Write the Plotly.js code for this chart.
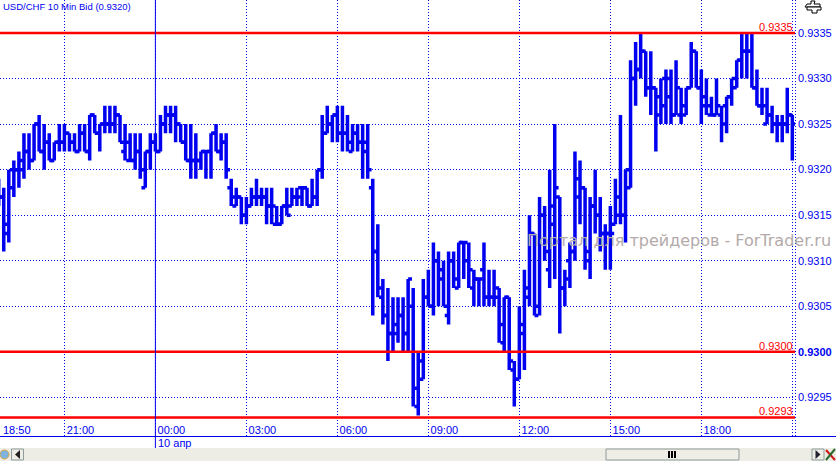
<!DOCTYPE html>
<html><head><meta charset="utf-8">
<script src="https://cdn.plot.ly/plotly-3.0.1.min.js"></script>
<style>html,body{margin:0;padding:0;background:#fff;overflow:hidden}#chart{width:836px;height:461px}</style>
</head><body><div id="chart"></div>
<script>
// Prices are pips above 0.9300, one entry per 10-minute bar starting at 18:50
const opens =[18,17,13,20,20,20,22,21,25,22,23,21,23,23,24,23,22,24,22,26,24,25,25,25,26,22,21,21,22,18,22,23,22,25,26,26,25,23,21,21,21,22,22,24,22,23,18,16,17,15,16,17,17,17,16,14,14,16,16,17,18,18,16,17,20,24,25,26,24,24,22,24,23,22,18,11,6,4,2,3,4,2,5,-6,-3,6,5,10,9,4,10,7,12,10,7,8,9,6,6,7,1,6,-2,-3,2,6,13,5,15,9,14,17,7,10,11,17,18,10,16,15,13,13,14,15,15,18,30,31,33,29,29,28,30,28,26,26,26,29,33,29,27,26,26,26,27,28,29,32,33,33,29,27,25,26,25,25,25,26];
const highs =[19,18,20,21,22,24,24,25,26,25,24,23,25,25,24,24,25,25,26,26,25,27,27,27,26,25,24,24,24,22,24,24,26,27,27,27,25,25,25,24,22,22,24,25,24,24,19,18,17,17,18,19,18,18,18,16,16,18,18,18,18,18,19,20,26,27,26,27,27,26,25,25,25,25,19,14,8,7,6,6,6,8,7,0,8,9,12,11,10,11,11,12,12,12,9,8,12,9,9,7,6,6,-1,5,9,15,13,17,16,20,25,17,9,12,22,21,18,17,20,17,14,16,19,26,20,32,34,35,33,33,29,30,31,31,32,29,29,34,33,31,30,28,30,27,28,30,32,35,35,35,31,29,29,27,26,26,29,26];
const lows  =[16,11,12,17,18,19,20,21,22,20,21,21,22,22,22,22,22,22,21,24,22,24,24,24,23,21,21,20,19,18,20,22,22,24,24,23,23,21,19,19,20,19,19,22,21,19,16,16,14,14,16,16,16,14,14,14,14,15,16,16,16,16,16,16,19,24,23,23,22,22,22,22,19,19,4,6,3,-1,0,1,0,0,-6,-7,-3,5,4,5,5,3,7,7,8,7,5,5,5,5,5,1,0,-2,-6,-3,-2,5,4,4,10,7,8,2,5,7,10,14,9,8,13,11,9,9,14,14,12,18,27,30,28,26,22,25,25,25,26,25,26,29,29,25,26,26,26,23,24,27,29,30,30,29,27,26,25,24,23,23,24,21];
const closes=[17,14,18,20,21,22,21,25,22,23,21,23,23,24,23,22,24,22,26,24,25,25,25,26,23,23,21,22,20,22,23,22,25,26,26,25,23,21,21,21,22,22,24,22,23,20,17,17,15,16,17,17,17,16,16,14,16,15,17,17,18,16,17,20,24,25,26,24,24,23,24,23,23,20,11,7,4,2,2,4,2,8,-4,-1,6,5,10,8,5,10,8,12,12,9,8,8,6,6,6,3,6,-1,-3,3,7,13,4,15,11,16,18,7,8,11,19,18,11,16,15,13,13,13,17,15,20,30,31,33,29,29,26,27,30,26,29,27,29,33,29,28,27,26,27,25,28,30,32,33,33,29,27,27,26,25,25,25,26,25];
const tickBars  =[13,31,49,67,85,103,121,139,157];
const tickLabels=['21:00','00:00','03:00','06:00','09:00','12:00','15:00','18:00',''];
const priceTicks=[0.9295,0.9300,0.9305,0.9310,0.9315,0.9320,0.9325,0.9330,0.9335];
const priceLabels=['0.9295','<b>0.9300</b>','0.9305','0.9310','0.9315','0.9320','0.9325','0.9330','0.9335'];
const levelValues=[0.9335,0.9300,0.92928];
const levelLabels=['0.9335','0.9300','0.9293'];
const titleText='USD/CHF 10 Min Bid (0.9320)';
const watermark='Портал для трейдеров - ForTrader.ru';

const BLUE='#0000f0', W=795, H=436;
const start=Date.UTC(2014,3,9,18,50);
const barTime=i=>start+i*600000;
const price=p=>+(0.93+p*0.0001).toFixed(4);
const px=x=>x/W, py=y=>1-y/H;
const yRange=[0.929076,0.933862];
const font={family:'"Liberation Sans",Arial,sans-serif',size:11,color:BLUE};

// alternate bars go in two traces so the open/close ticks can reach the neighbouring bar
const ohlcTrace=rem=>{
 const keep=opens.map((_,i)=>i).filter(i=>i%2===rem);
 return {type:'ohlc',x:keep.map(barTime),open:keep.map(i=>price(opens[i])),high:keep.map(i=>price(highs[i])),
  low:keep.map(i=>price(lows[i])),close:keep.map(i=>price(closes[i])),tickwidth:0.38,hoverinfo:'skip',showlegend:false,
  increasing:{line:{color:BLUE,width:3.5}},decreasing:{line:{color:BLUE,width:3.5}}};
};
const traces=[ohlcTrace(0),ohlcTrace(1)];

const rect=(x0,y0,x1,y1,fill,line,lw)=>({type:'rect',xref:'paper',yref:'paper',x0:px(x0),x1:px(x1),y0:py(y0),y1:py(y1),
  fillcolor:fill,line:{color:line||fill,width:lw===undefined?0:lw},layer:'above'});
const path=(d,fill,line,lw)=>({type:'path',xref:'paper',yref:'paper',
  path:d.map(([c,x,y])=>c==='Z'?'Z':`${c} ${px(x)} ${py(y)}`).join(' '),fillcolor:fill,line:{color:line||fill,width:lw||0},layer:'above'});
const seg=(x0,y0,x1,y1,color,w,dash)=>({type:'line',xref:'paper',yref:'paper',x0:px(x0),x1:px(x1),y0:py(y0),y1:py(y1),
  line:{color,width:w,dash:dash||'solid'},layer:'above'});

const shapes=[
 ...levelValues.map(v=>({type:'line',xref:'paper',yref:'y',x0:0,x1:1,y0:v,y1:v,line:{color:'#ff0000',width:2.5},layer:'above'})),
 {type:'line',xref:'x',yref:'paper',x0:barTime(31),x1:barTime(31),y0:py(448),y1:1,line:{color:BLUE,width:1},layer:'above'},
 seg(795.5,0,795.5,436,BLUE,1,'1px,2px'),
 seg(0,436.5,836,436.5,BLUE,1),
 rect(0,448,836,461,'#eeede5'),
 // scrollbar thumb and grip
 rect(606,449,739,460,'#efeee6','#8d9c9c',1),
 rect(668,451,670,458,'#000'),rect(671,451,673,458,'#000'),rect(674,451,676,458,'#000'),
 // left button and globe
 rect(11.5,449,23.5,460,'#efeee6','#8d9c9c',1),
 path([['M',20,450],['L',20,459],['L',15,454.5],['Z']],'#222'),
 {type:'circle',xref:'paper',yref:'paper',x0:px(0),x1:px(9),y0:py(450),y1:py(459),fillcolor:'#7fb2dd',line:{color:'#d9a441',width:1},layer:'above'},
 // right button and delete mark
 rect(812,449,824,460,'#efeee6','#8d9c9c',1),
 path([['M',815.5,450],['L',815.5,459],['L',820.5,454.5],['Z']],'#223'),
 seg(826,450,835,460,'#d01515',2),seg(835,449,826,460,'#2a6a2a',2),
 // toolbar glyph top right
 path([['M',807,4],['L',811,4],['L',811,1],['L',815,1],['L',814,4],['L',820,4],['L',820,7],['L',805,7],['Z']],'#fff','#000',1),
 path([['M',807,7],['L',821,7],['L',821,10],['L',817,10],['L',817,13],['L',812,13],['L',812,10],['L',807,10],['Z']],'#fff','#000',1)
];

const annotations=[
 {xref:'paper',yref:'paper',x:px(526),y:py(241),xanchor:'left',yanchor:'middle',showarrow:false,text:watermark,
  font:{family:'"DejaVu Sans",sans-serif',size:16,color:'#b3aaaa'},borderpad:0},
 ...levelValues.map((v,i)=>({xref:'paper',yref:'y',x:px(794),y:v,xanchor:'right',yanchor:'bottom',yshift:-1,showarrow:false,
   text:levelLabels[i],font:{...font,color:'#ff0000'},borderpad:0})),
 {xref:'paper',yref:'paper',x:px(2),y:py(430),xanchor:'left',yanchor:'middle',showarrow:false,text:'18:50',font,borderpad:0},
 {xref:'paper',yref:'paper',x:px(157),y:py(443),xanchor:'left',yanchor:'middle',showarrow:false,text:'10 апр',font,borderpad:0}
];

const layout={
 width:836,height:461,margin:{l:0,r:41,t:0,b:25,pad:0},paper_bgcolor:'#fff',plot_bgcolor:'#fff',showlegend:false,
 title:{text:titleText,x:3/836,xref:'container',xanchor:'left',y:1-6.5/461,yref:'container',yanchor:'middle',font:{...font,size:9.5},pad:{t:0,l:0,r:0,b:0}},
 xaxis:{type:'date',range:[barTime(0.26),barTime(157.53)],tickmode:'array',tickvals:tickBars.map(barTime),ticktext:tickLabels,
  showgrid:true,gridcolor:BLUE,griddash:'1px,2px',gridwidth:1,zeroline:false,showline:false,ticks:'',rangeslider:{visible:false},
  ticklabelposition:'inside',ticklabelshift:16,ticklabelstandoff:-3,ticklabeloverflow:'allow',tickfont:font,fixedrange:true},
 yaxis:{range:yRange,side:'right',tickmode:'array',tickvals:priceTicks,ticktext:priceLabels,showgrid:true,gridcolor:BLUE,griddash:'1px,2px',gridwidth:1,
  zeroline:false,showline:false,ticks:'',ticklabelstandoff:2,tickfont:font,fixedrange:true},
 shapes,annotations
};
Plotly.newPlot('chart',traces,layout,{displayModeBar:false,staticPlot:true});
</script></body></html>
